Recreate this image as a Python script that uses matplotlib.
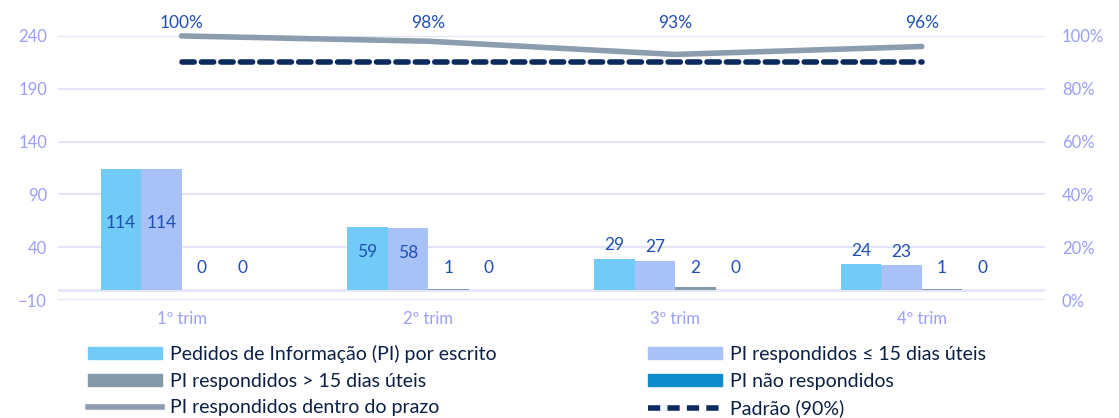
import matplotlib.pyplot as plt
import numpy as np
from matplotlib.patches import Patch
from matplotlib.lines import Line2D

plt.rcParams['font.family'] = ['Lato', 'DejaVu Sans']

# data
quarters = ['1º trim', '2º trim', '3º trim', '4º trim']
pedidos = [114, 59, 29, 24]
resp_ate15 = [114, 58, 27, 23]
resp_mais15 = [0, 1, 2, 1]
nao_resp = [0, 0, 0, 0]
dentro_prazo = [100, 98, 93, 96]
padrao = [90, 90, 90, 90]

bar_series = [
    ('Pedidos de Informação (PI) por escrito', pedidos, '#72CAF6'),
    ('PI respondidos ≤ 15 dias úteis', resp_ate15, '#A8C1F6'),
    ('PI respondidos > 15 dias úteis', resp_mais15, '#8599AB'),
    ('PI não respondidos', nao_resp, '#0E8BCB'),
]

tick_col = '#9B9EF5'
lab_col = '#1F4FB5'
grid_col = '#E3E5F9'

fig = plt.figure(figsize=(11.19, 4.18), dpi=100)
ax = fig.add_axes([0.052, 0.282, 0.882, 0.632])
ax2 = ax.twinx()

x = np.arange(len(quarters))
w = 0.164
for i, (name, vals, col) in enumerate(bar_series):
    xs = x + (i - 1.5) * w
    ax.bar(xs, vals, w, color=col, zorder=3)
    for xi, v in zip(xs, vals):
        if v >= 50:
            ax.text(xi, v / 2 + 6, str(v), ha='center', va='center',
                    color=lab_col, fontsize=12.5, zorder=5)
        else:
            ax.annotate(str(v), (xi, max(v, 8)), xytext=(0, 4),
                        textcoords='offset points', ha='center', va='bottom',
                        color=lab_col, fontsize=12.5, zorder=5)

ax.set_ylim(-10, 240)
ax.set_yticks(np.arange(-10, 241, 50))
ax.set_xlim(-0.5, 3.5)
ax.set_xticks(x)
ax.set_xticklabels(quarters)
ax.grid(axis='y', color=grid_col, lw=1.5, zorder=0)
ax.axhline(0, color=grid_col, lw=2, zorder=2)
for s in ax.spines.values():
    s.set_visible(False)
ax.tick_params(length=0, colors=tick_col, labelsize=12, pad=8)

# line series on secondary axis
ax2.set_ylim(0, 100)
ax2.set_yticks(np.arange(0, 101, 20))
ax2.set_yticklabels([f'{t}%' for t in range(0, 101, 20)])
for s in ax2.spines.values():
    s.set_visible(False)
ax2.tick_params(length=0, colors=tick_col, labelsize=12, pad=12)
ax2.plot(x, dentro_prazo, color='#8B9DAE', lw=4, solid_capstyle='round',
         zorder=4, clip_on=False)
ax2.plot(x, padrao, color='#0D2A5E', lw=4, ls=(0, (2.2, 1.3)),
         dash_capstyle='round', zorder=4, clip_on=False)
for xi, v in zip(x, dentro_prazo):
    ax2.text(xi, 105, f'{v}%', ha='center', va='center', color=lab_col,
             fontsize=12.5, clip_on=False)

handles = [
    Patch(color=bar_series[0][2]),
    Patch(color=bar_series[2][2]),
    Line2D([], [], color='#8B9DAE', lw=4),
    Patch(color=bar_series[1][2]),
    Patch(color=bar_series[3][2]),
    Line2D([], [], color='#0D2A5E', lw=4, ls=(0, (2.2, 1.3))),
]
labels = [bar_series[0][0], bar_series[2][0], 'PI respondidos dentro do prazo',
          bar_series[1][0], bar_series[3][0], 'Padrão (90%)']
fig.legend(handles, labels, ncol=2, loc='upper left',
           bbox_to_anchor=(0.079, 0.175), frameon=False, fontsize=14,
           handlelength=3.8, handleheight=0.6, handletextpad=0.4,
           columnspacing=7.8, labelspacing=0.5, borderaxespad=0,
           borderpad=0, labelcolor='#0A1F44')

fig.savefig('out.png', dpi=100)
